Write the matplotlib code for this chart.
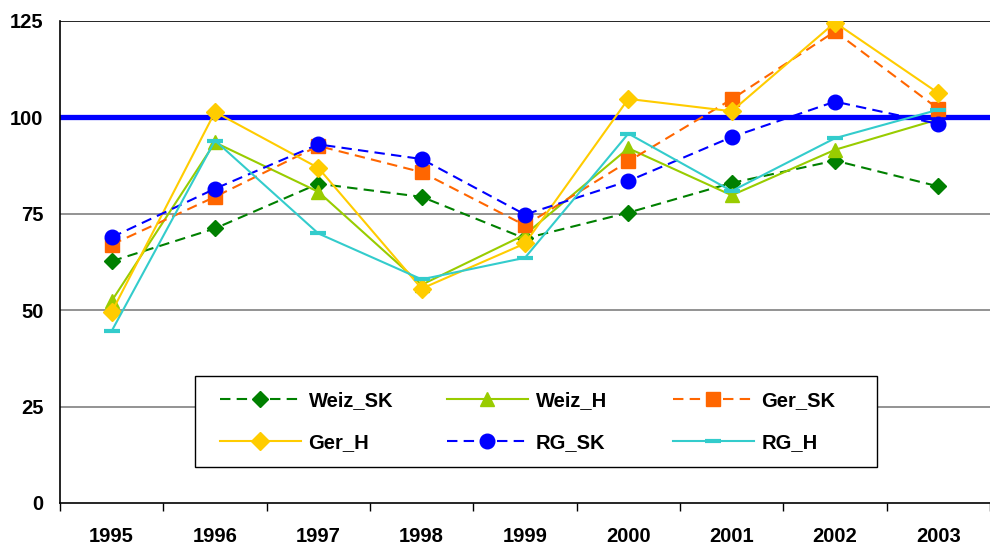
import matplotlib
matplotlib.use("Agg")
import matplotlib.pyplot as plt
from matplotlib.patches import Rectangle

plt.rcParams['font.family'] = ['Liberation Sans', 'DejaVu Sans']

years = ["1995", "1996", "1997", "1998", "1999", "2000", "2001", "2002", "2003"]

weiz_sk = [62.7, 71.2, 82.8, 79.4, 68.6, 75.3, 83.0, 88.8, 82.1]
weiz_h = [52.4, 93.5, 80.7, 56.6, 69.6, 92.0, 79.8, 91.6, 99.5]
ger_sk = [67.0, 79.4, 92.6, 85.8, 72.0, 88.6, 104.7, 122.3, 102.2]
ger_h = [49.5, 101.4, 86.9, 55.6, 67.3, 104.8, 101.6, 124.6, 106.3]
rg_sk = [68.9, 81.5, 93.0, 89.2, 74.8, 83.5, 94.9, 104.1, 98.3]
rg_h = [44.6, 94.0, 69.9, 58.0, 63.6, 95.8, 80.9, 94.6, 102.0]

reference_level = 100
y_ticks = [0, 25, 50, 75, 100, 125]

W, H = 990, 545
fig = plt.figure(figsize=(W / 100, H / 100), dpi=100)
ax = fig.add_axes([60 / W, 1 - 503 / H, 930 / W, (503 - 21) / H])

x = list(range(len(years)))

# horizontal gridlines
for v in y_ticks[1:-1]:
    ax.axhline(v, color="#808080", lw=1.2, zorder=0)
ax.axhline(y_ticks[-1], color="black", lw=1.2, zorder=0)

# reference level
ax.axhline(reference_level, color="#0000FF", lw=3.8, zorder=1)

dash = (5, 3)
series = [
    ("Weiz_SK", weiz_sk, dict(color="#008000", marker="D", ms=8, dashes=dash)),
    ("Weiz_H", weiz_h, dict(color="#99CC00", marker="^", ms=10)),
    ("Ger_SK", ger_sk, dict(color="#FF6600", marker="s", ms=10, dashes=dash)),
    ("Ger_H", ger_h, dict(color="#FFCC00", marker="D", ms=9)),
    ("RG_SK", rg_sk, dict(color="#0000FF", marker="o", ms=10.5, dashes=dash)),
    ("RG_H", rg_h, dict(color="#33CCCC", marker="_", ms=12, mew=3)),
]

handles = {}
for name, vals, st in series:
    ln, = ax.plot(x, vals, lw=1.5, label=name, zorder=3, **st)
    handles[name] = ln

ax.set_xlim(-0.5, len(years) - 0.5)
ax.set_ylim(0, 125)
ax.set_yticks(y_ticks)
ax.set_yticklabels([str(t) for t in y_ticks], fontsize=14.5, fontweight="bold")
ax.tick_params(axis="y", length=0, pad=12)

ax.set_xticks([i - 0.5 for i in range(len(years) + 1)], minor=False)
ax.set_xticklabels([])
ax.set_xticks(x, minor=True)
ax.set_xticklabels(years, minor=True, fontsize=14.5, fontweight="bold")
ax.tick_params(axis="x", which="major", length=6, width=1, direction="out", color="black")
ax.tick_params(axis="x", which="minor", length=0, pad=17)

for s in ["top", "right"]:
    ax.spines[s].set_visible(False)
for s in ["left", "bottom"]:
    ax.spines[s].set_color("black")
    ax.spines[s].set_linewidth(1.2)

# legend box
box = Rectangle((195 / W, 1 - 467 / H), (877 - 195) / W, (467 - 376) / H,
                transform=fig.transFigure, facecolor="white", edgecolor="black",
                lw=1.0, zorder=4)
fig.add_artist(box)

# legend entries laid out in three equally spaced columns
columns = [("Weiz_SK", "Ger_H"), ("Weiz_H", "RG_SK"), ("Ger_SK", "RG_H")]
col_x = [220, 447, 673]
for names, cx in zip(columns, col_x):
    leg = fig.legend(
        [handles[n] for n in names], list(names),
        ncol=1, loc="upper left",
        bbox_to_anchor=(cx / W, 1 - 391 / H), bbox_transform=fig.transFigure,
        prop=dict(size=14.5, weight="bold"),
        frameon=False,
        handlelength=4.0, handletextpad=0.4,
        borderpad=0, labelspacing=1.15, borderaxespad=0,
    )
    leg.set_zorder(5)

fig.savefig("out.png", dpi=100)
